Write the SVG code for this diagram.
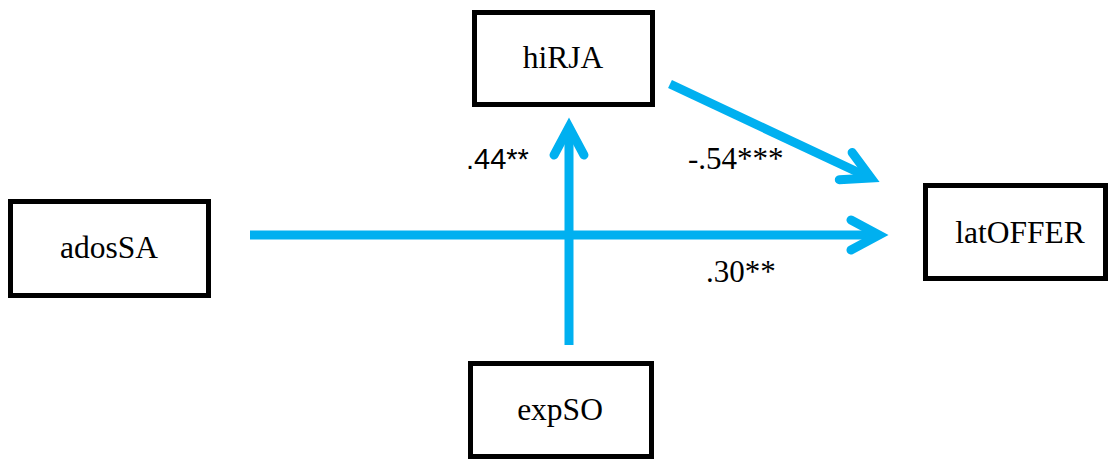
<svg xmlns="http://www.w3.org/2000/svg" width="1109" height="460" viewBox="0 0 1109 460">
<style>
.box{fill:#fff;stroke:#000;stroke-width:5}
.lbl{font-family:"Liberation Serif","Times New Roman",serif;font-size:31.5px;fill:#000;text-anchor:middle}
.coef{font-family:"Liberation Serif","Times New Roman",serif;font-size:31px;fill:#000}
.coefs{font-family:"Liberation Sans",Arial,sans-serif;font-size:29px;fill:#000}
.edge{fill:none;stroke:#00B0F0;stroke-width:9}
.head{fill:none;stroke:#00B0F0;stroke-width:9;stroke-linecap:round;stroke-linejoin:miter}
</style>
<rect width="1109" height="460" fill="#fff"/>
<g id="connectors">
<path class="edge" d="M250 235H876"/>
<polyline class="head" points="851,220 879,235 851,250"/>
<path class="edge" d="M569 345V130"/>
<polyline class="head" points="554,155 569,127 584,155"/>
<path class="edge" d="M670 84L866 176"/>
<polyline class="head" points="852.1,152.5 871,178 839.3,179.7"/>
<text class="coefs" x="466" y="169">.44**</text>
<text class="coef" x="688" y="169">-.54***</text>
<text class="coef" x="706" y="282">.30**</text>
</g>
<g id="hiRJA"><rect class="box" x="474.5" y="12.5" width="178" height="92"/><text class="lbl" x="563" y="68">hiRJA</text></g>
<g id="adosSA"><rect class="box" x="10.5" y="201.5" width="198" height="94"/><text class="lbl" x="109" y="258">adosSA</text></g>
<g id="latOFFER"><rect class="box" x="925.5" y="185.5" width="180" height="93"/><text class="lbl" x="1020" y="243">latOFFER</text></g>
<g id="expSO"><rect class="box" x="470.5" y="363.5" width="181" height="93"/><text class="lbl" x="560" y="420">expSO</text></g>
</svg>
